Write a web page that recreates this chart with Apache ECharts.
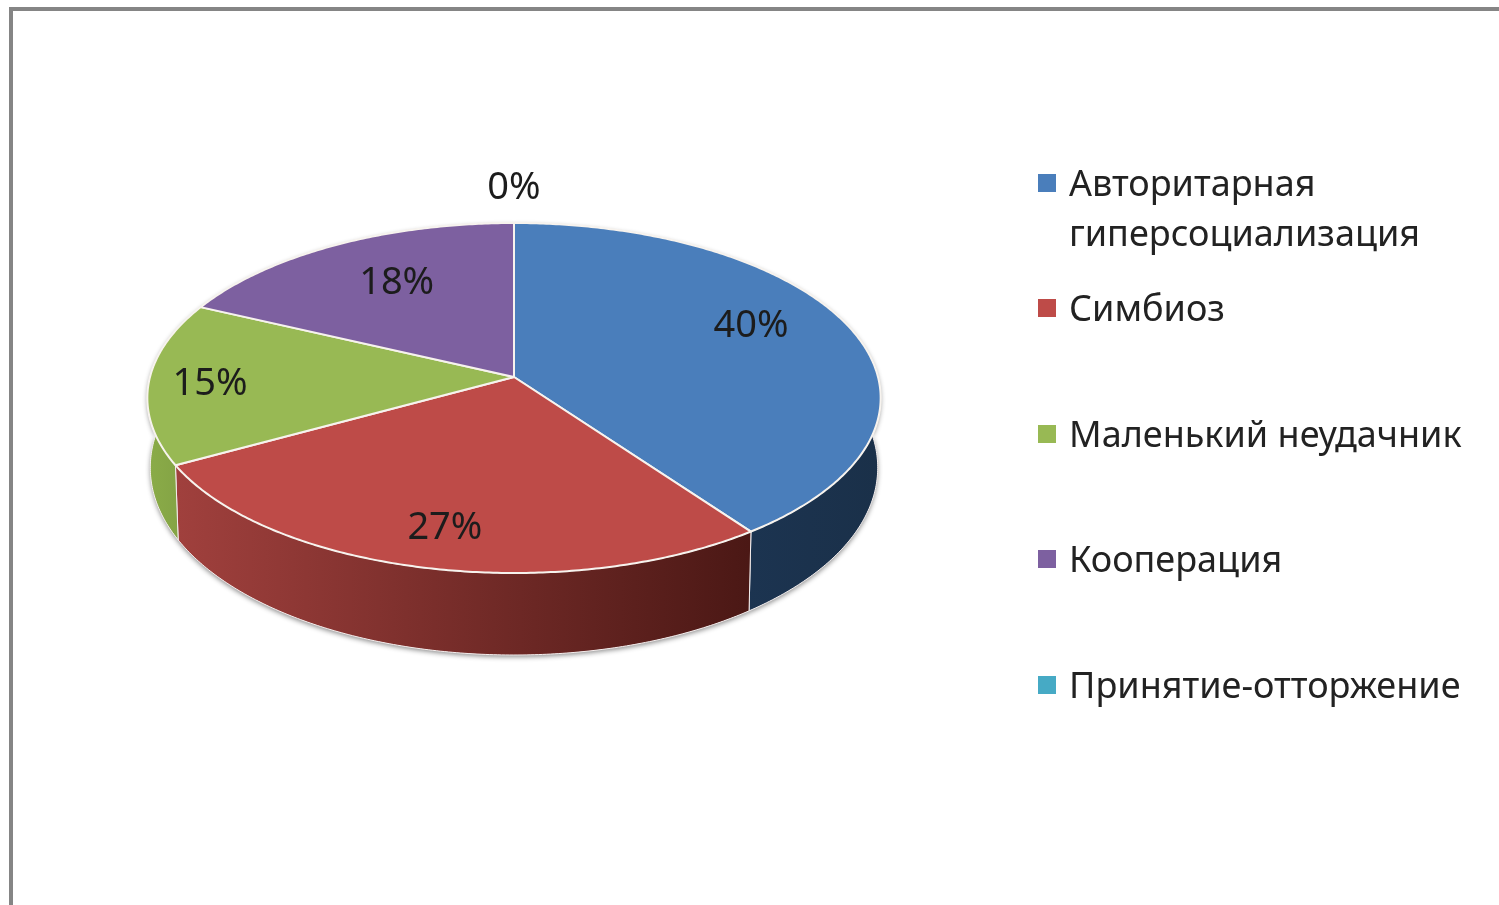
<!DOCTYPE html>
<html>
<head>
<meta charset="utf-8">
<title>Pie</title>
<style>
    html, body { margin: 0; padding: 0; background: #fff; }
    #main { width: 1499px; height: 905px; }
</style>
<script src="https://cdn.jsdelivr.net/npm/echarts@6/dist/echarts.min.js"></script>
</head>
<body>
<div id="main"></div>
<script>
var categories = ["Авторитарная\nгиперсоциализация", "Симбиоз", "Маленький неудачник", "Кооперация", "Принятие-отторжение"];
var values = [40, 27, 15, 18, 0];
var percentLabels = ["40%", "27%", "15%", "18%", "0%"];

var faceColors = ["#4a7ebb", "#be4b48", "#98b954", "#7d60a0", "#46aac5"];
var wallStart = ["#1f3b5e", "#a0403d", "#8aab48", "#5f4878", "#35808f"];
var wallEnd = ["#1a3049", "#4b1815", "#7f9e42", "#5f4878", "#35808f"];

// label nudges from the default spot on each slice, px
var labelDx = [-32, 1, -12, 27, 0];
var labelDy = [-9, 3, 3, 14, -63];
var legendCenterY = [182, 308, 434, 559, 685];

var FONT = '"Noto Sans", sans-serif';

// perspective of the pie top: the tilted circle maps to an off-centre ellipse
var cx = 514, apexY = 377, radius = 364, tiltY = 127.24, tiltK = 0.12;

function top3d(t, f) {
    var u = Math.sin(t) * f, v = -Math.cos(t) * f;
    var d = 1 - tiltK * v;
    return [cx + radius * u / d, (apexY + tiltY * v) / d];
}
function bottom3d(t) {
    var p = top3d(t, 1);
    return [cx + (p[0] - cx) * 0.992, p[1] + 68 + 14 * -Math.cos(t)];
}

var total = values.reduce(function (a, b) { return a + b; }, 0);

function sliceItem(i) {
    return function (params, api) {
        var before = 0;
        for (var k = 0; k < i; k++) before += values[k];
        var t0 = before / total * Math.PI * 2;
        var t1 = (before + api.value(0)) / total * Math.PI * 2;
        var steps = Math.max(1, Math.ceil((t1 - t0) / 0.01));
        var rim = [], low = [];
        for (var s = 0; s <= steps; s++) {
            var t = t0 + (t1 - t0) * s / steps;
            rim.push(top3d(t, 1));
            low.push(bottom3d(t));
        }
        var children = [];
        if (api.value(0) > 0) {
            var wall = rim.concat(low.slice().reverse());
            var minX = Infinity, maxX = -Infinity;
            low.forEach(function (p) { minX = Math.min(minX, p[0]); maxX = Math.max(maxX, p[0]); });
            // soft shadow goes under every wall
            children.push({
                type: "polygon", z2: 1, shape: { points: wall },
                style: { fill: "#fff", shadowBlur: 5, shadowOffsetY: 2, shadowColor: "rgba(0,0,0,0.45)" }
            });
            children.push({
                type: "polygon", z2: 2, shape: { points: wall },
                style: {
                    fill: new echarts.graphic.LinearGradient(minX, 0, maxX, 0, [
                        { offset: 0, color: wallStart[i] },
                        { offset: 1, color: wallEnd[i] }
                    ], true),
                    stroke: "#f4eeee", lineWidth: 1
                }
            });
            children.push({
                type: "polygon", z2: 3, shape: { points: [[cx, apexY]].concat(rim) },
                style: { fill: faceColors[i], stroke: "#f7f3ee", lineWidth: 2, lineJoin: "round" }
            });
        }
        var mid = top3d((t0 + t1) / 2, 0.8);
        children.push({
            type: "text", z2: 5,
            style: {
                text: percentLabels[i],
                x: mid[0] + labelDx[i], y: mid[1] + labelDy[i],
                align: "center", verticalAlign: "middle",
                font: "38px " + FONT, fill: "#1c1c1c"
            }
        });
        return { type: "group", children: children };
    };
}

var chart = echarts.init(document.getElementById("main"));

var series = categories.map(function (name, i) {
    return {
        type: "custom",
        name: name,
        coordinateSystem: "none",
        silent: true,
        itemStyle: { color: faceColors[i] },
        data: [[values[i]]],
        renderItem: sliceItem(i)
    };
});

var legends = categories.map(function (name, i) {
    var twoLines = name.indexOf("\n") >= 0;
    return {
        data: [name],
        left: 1038,
        top: legendCenterY[i] - (twoLines ? 14 : 15),
        padding: 0,
        icon: "rect",
        itemWidth: 18,
        itemHeight: 18,
        selectedMode: false,
        // rich text honours the top padding, so the swatch stays level with the first line
        formatter: function (n) {
            return n.split("\n").map(function (line) { return "{t|" + line + "}"; }).join("\n");
        },
        textStyle: {
            padding: [twoLines ? 56 : 6, 0, 0, 8],
            rich: { t: { fontFamily: FONT, fontSize: 36, color: "#222", lineHeight: 50 } }
        }
    };
});

chart.setOption({
    backgroundColor: "#fff",
    animation: false,
    legend: legends,
    // picture frame, only its top and left edges fall inside the page
    graphic: [{
        type: "rect", silent: true,
        shape: { x: 11, y: 9, width: 2000, height: 2000 },
        style: { fill: "none", stroke: "#858585", lineWidth: 4 }
    }],
    series: series
});
</script>
</body>
</html>
